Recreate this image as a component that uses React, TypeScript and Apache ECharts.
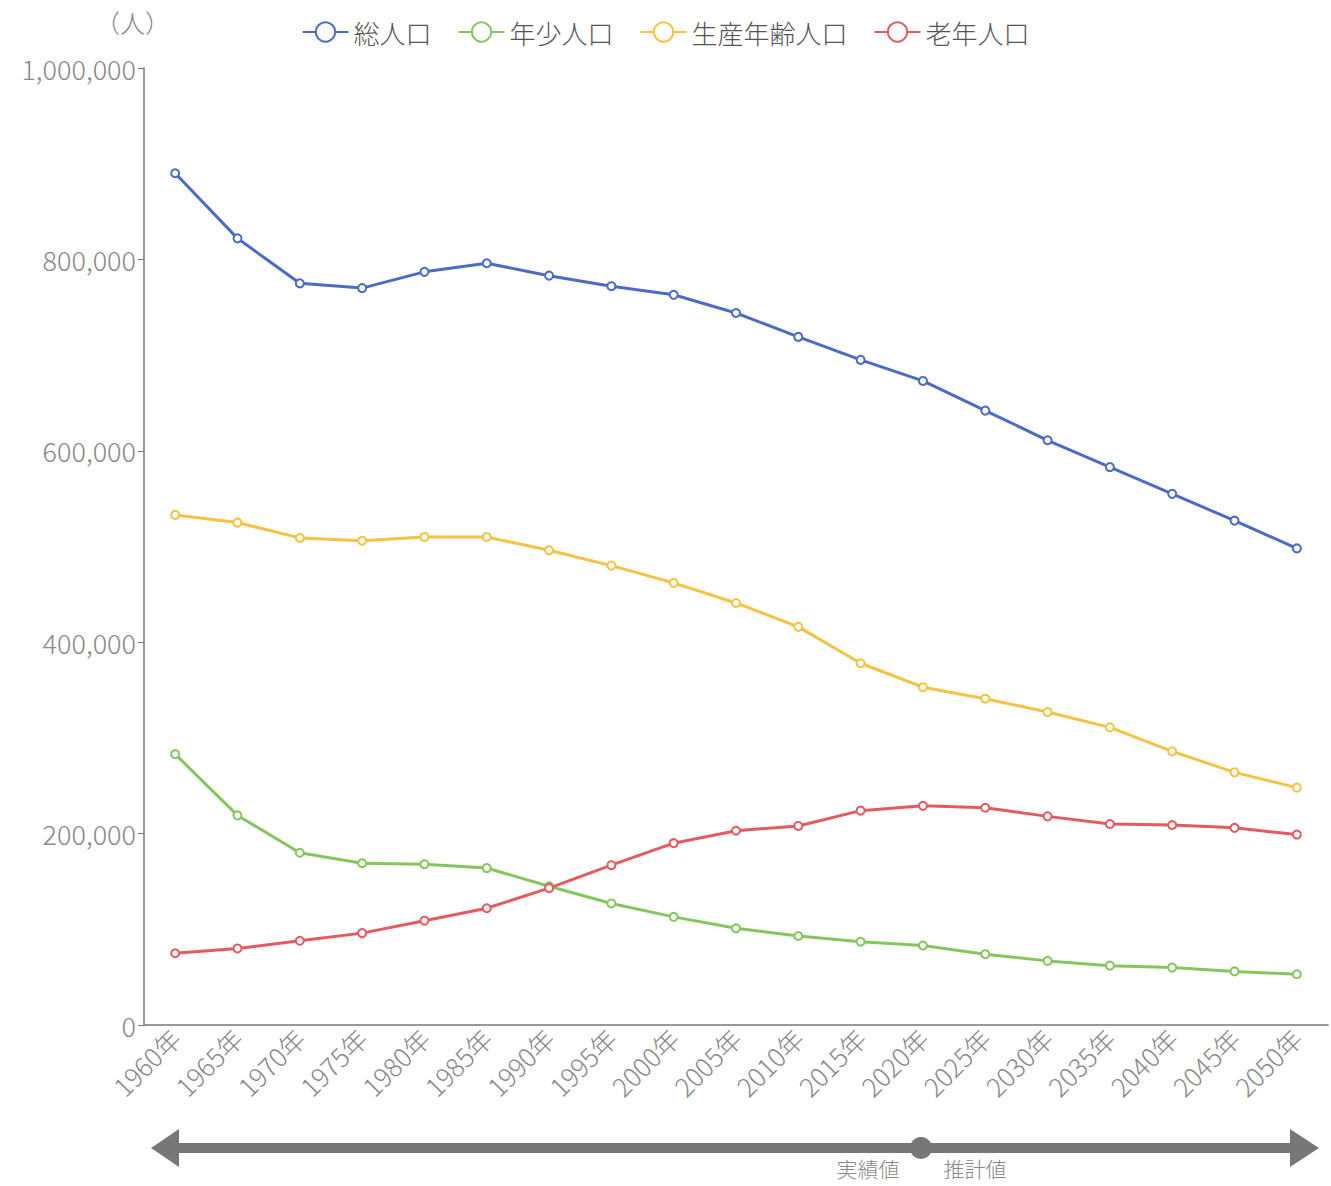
import React, { useEffect, useRef } from "react";
import * as echarts from "echarts";

const years = ["1960年","1965年","1970年","1975年","1980年","1985年","1990年","1995年","2000年","2005年","2010年","2015年","2020年","2025年","2030年","2035年","2040年","2045年","2050年"];
const total = [890000,822000,775000,770000,787000,796000,783000,772000,763000,744000,719000,695000,673000,642000,611000,583000,555000,527000,498000];
const young = [283000,219000,180000,169000,168000,164000,145000,127000,113000,101000,93000,87000,83000,74000,67000,62000,60000,56000,53000];
const working = [533000,525000,509000,506000,510000,510000,496000,480000,462000,441000,416000,378000,353000,341000,327000,311000,286000,264000,248000];
const elderly = [75000,80000,88000,96000,109000,122000,143000,167000,190000,203000,208000,224000,229000,227000,218000,210000,209000,206000,199000];
const seriesNames = ["総人口","年少人口","生産年齢人口","老年人口"];
const colors = ["#4a6bc6","#85c65f","#f5c244","#e55a5f"];

const FONT = "'Noto Sans CJK JP', 'Noto Sans', sans-serif";

export default function App() {
  const ref = useRef<HTMLDivElement>(null);
  useEffect(() => {
    if (!ref.current) return;
    const chart = echarts.init(ref.current, null, { renderer: "svg" });
    const data = [total, young, working, elderly];
    chart.setOption({
      animation: false,
      textStyle: { fontFamily: FONT },
      legend: {
        top: 14,
        left: "center",
        itemWidth: 46,
        itemHeight: 24,
        itemGap: 26,
        textStyle: { fontSize: 26, color: "#555", fontFamily: FONT, fontWeight: 300 },
        data: seriesNames,
      },
      grid: { left: 144, right: 3, top: 68, bottom: 161 },
      xAxis: {
        type: "category",
        data: years,
        boundaryGap: true,
        axisLine: { lineStyle: { color: "#777", width: 1.5 } },
        axisTick: { alignWithLabel: true, length: 6, lineStyle: { color: "#777" } },
        axisLabel: { rotate: 45, fontSize: 26, color: "#888", margin: 8, interval: 0, fontFamily: FONT, fontWeight: 300 },
      },
      yAxis: {
        type: "value",
        min: 0,
        max: 1000000,
        interval: 200000,
        name: "（人）",
        nameLocation: "end",
        nameGap: 34,
        nameTextStyle: { fontSize: 25, color: "#888", align: "right", padding: [0, -26, 0, 0], fontFamily: FONT, fontWeight: 300 },
        axisLine: { show: true, lineStyle: { color: "#777", width: 1.5 } },
        axisTick: { show: true, length: 6, lineStyle: { color: "#777" } },
        splitLine: { show: false },
        axisLabel: {
          fontSize: 27,
          color: "#888",
          margin: 8,
          fontFamily: FONT,
          fontWeight: 300,
          formatter: (v: number) => v.toLocaleString("en-US"),
        },
      },
      series: seriesNames.map((n, i) => ({
        name: n,
        type: "line",
        data: data[i],
        symbol: "emptyCircle",
        symbolSize: 8,
        lineStyle: { width: 3, color: colors[i] },
        itemStyle: { color: colors[i], borderWidth: 2.5 },
      })),
      graphic: [
        { type: "rect", shape: { x: 176, y: 1143, width: 1116, height: 10 }, style: { fill: "#777" } },
        { type: "polygon", shape: { points: [[151, 1148], [179, 1129], [179, 1167]] }, style: { fill: "#777" } },
        { type: "polygon", shape: { points: [[1319, 1148], [1290, 1129], [1290, 1167]] }, style: { fill: "#777" } },
        { type: "circle", shape: { cx: 921, cy: 1148, r: 11 }, style: { fill: "#777" } },
        { type: "text", x: 868, y: 1168, style: { text: "実績値", fontSize: 21, fill: "#888", align: "center", verticalAlign: "middle", fontFamily: FONT, fontWeight: 300 } },
        { type: "text", x: 975, y: 1168, style: { text: "推計値", fontSize: 21, fill: "#888", align: "center", verticalAlign: "middle", fontFamily: FONT, fontWeight: 300 } },
      ],
    });
    return () => chart.dispose();
  }, []);
  return <div ref={ref} style={{ position: "absolute", left: 0, top: 0, width: 1331, height: 1186 }} />;
}
